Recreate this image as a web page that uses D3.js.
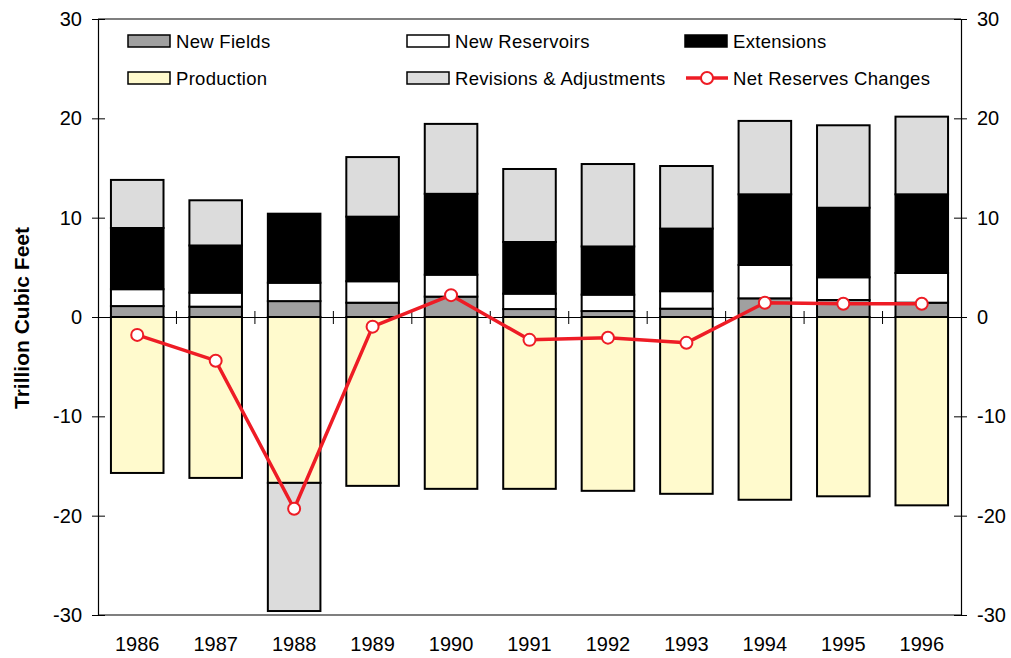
<!DOCTYPE html>
<html><head><meta charset="utf-8">
<script src="https://cdn.jsdelivr.net/npm/d3@7"></script>
<style>
body{margin:0;background:#fff;}
text{font-family:"Liberation Sans",Arial,sans-serif;}
</style></head>
<body>
<svg id="c" width="1011" height="658"></svg>
<script>
const years = ["1986","1987","1988","1989","1990","1991","1992","1993","1994","1995","1996"];
const newFields = [1.1, 1.04, 1.6, 1.44, 2.05, 0.8, 0.6, 0.84, 1.88, 1.71, 1.44];
const newReservoirs = [1.7, 1.41, 1.85, 2.16, 2.21, 1.55, 1.65, 1.76, 3.36, 2.29, 2.99];
const extensions = [6.16, 4.75, 6.95, 6.5, 8.14, 5.2, 4.85, 6.3, 7.11, 7.0, 7.92];
const production = [-15.7, -16.2, -16.7, -17.0, -17.3, -17.3, -17.5, -17.8, -18.4, -18.05, -18.96];
const revisions = [4.84, 4.55, -12.9, 6.0, 7.04, 7.35, 8.3, 6.3, 7.39, 8.3, 7.82];
const netChanges = [-1.8, -4.4, -19.3, -0.97, 2.2, -2.3, -2.08, -2.6, 1.44, 1.34, 1.34];
const yTicks = [-30, -20, -10, 0, 10, 20, 30];

const seriesKeys = ["nf","nr","ext","prod","rev"];
const seriesNames = {nf:"New Fields", nr:"New Reservoirs", ext:"Extensions", prod:"Production", rev:"Revisions & Adjustments"};
const colors = {nf:"#a0a0a0", nr:"#ffffff", ext:"#000000", prod:"#fffacd", rev:"#dcdcdc"};

const rows = years.map((y,i)=>({year:y, nf:newFields[i], nr:newReservoirs[i], ext:extensions[i], prod:production[i], rev:revisions[i]}));

const svg = d3.select("#c");
const L=98, R=961, T=19, B=615;
const x = d3.scaleBand().domain(years).range([L,R]).paddingInner(0.33).paddingOuter(0.165);
const y = d3.scaleLinear().domain([-30,30]).range([B,T]);

const stack = d3.stack().keys(seriesKeys).offset(d3.stackOffsetDiverging);
const stacked = stack(rows);

// bars
const g = svg.append("g");
stacked.forEach(s=>{
  g.selectAll(null).data(s).enter().append("rect")
    .attr("x", d=>x(d.data.year))
    .attr("width", x.bandwidth())
    .attr("y", d=>y(Math.max(d[0],d[1])))
    .attr("height", d=>Math.abs(y(d[0])-y(d[1])))
    .attr("fill", colors[s.key])
    .attr("stroke","#000")
    .attr("stroke-width",2);
});

// frame: top and bottom lines
svg.append("line").attr("x1",L).attr("x2",R).attr("y1",T).attr("y2",T).attr("stroke","#000").attr("stroke-width",1.2);
svg.append("line").attr("x1",L).attr("x2",R).attr("y1",B).attr("y2",B).attr("stroke","#000").attr("stroke-width",1.2);

const fmt = d=>String(d);
// left axis
const yl = svg.append("g").attr("transform",`translate(${L},0)`)
  .call(d3.axisLeft(y).tickValues(yTicks).tickFormat(fmt).tickSize(6).tickPadding(10));
yl.selectAll(".tick line").attr("x1",7).attr("x2",-6);
// right axis
const yr = svg.append("g").attr("transform",`translate(${R},0)`)
  .call(d3.axisRight(y).tickValues(yTicks).tickFormat(fmt).tickSize(6).tickPadding(10));
yr.selectAll(".tick line").attr("x1",-7).attr("x2",6);
[yl,yr].forEach(a=>{
  a.select(".domain").attr("stroke","#000").attr("stroke-width",1.2);
  a.selectAll("text").attr("font-size","20px").attr("fill","#000").attr("font-family","Liberation Sans, Arial, sans-serif");
  a.selectAll(".tick line").attr("stroke","#000");
});

// zero line axis with ticks between categories
const zero = svg.append("g").attr("transform",`translate(0,${y(0)})`)
  .call(d3.axisBottom(x).tickSize(0).tickFormat(""));
zero.select(".domain").attr("stroke","#000").attr("stroke-width",1.2);
zero.selectAll(".tick").remove();
const step = x.step();
const between = years.slice(0,-1).map((d,i)=>x(d)+x.bandwidth()+(step-x.bandwidth())/2);
zero.selectAll(null).data(between).enter().append("line")
  .attr("x1",d=>d).attr("x2",d=>d).attr("y1",-6).attr("y2",7).attr("stroke","#000").attr("stroke-width",1);

// category labels
const xb = svg.append("g").attr("transform",`translate(0,${B})`)
  .call(d3.axisBottom(x).tickSize(0).tickPadding(22));
xb.select(".domain").remove();
xb.selectAll("text").attr("font-size","20px").attr("fill","#000").attr("font-family","Liberation Sans, Arial, sans-serif");

// net line
const line = d3.line().x((d,i)=>x(years[i])+x.bandwidth()/2).y(d=>y(d));
svg.append("path").datum(netChanges).attr("d",line).attr("fill","none").attr("stroke","#ee1c25").attr("stroke-width",3.5).attr("stroke-linejoin","round");
svg.selectAll(null).data(netChanges).enter().append("circle")
  .attr("cx",(d,i)=>x(years[i])+x.bandwidth()/2).attr("cy",d=>y(d)).attr("r",6)
  .attr("fill","#fff").attr("stroke","#ee1c25").attr("stroke-width",2);

// y title
svg.append("text").attr("transform","translate(29,318) rotate(-90)").attr("text-anchor","middle")
  .attr("font-size","21px").attr("font-weight","bold").text("Trillion Cubic Feet");

// legend
const legendItems = [
  {k:"nf", x:128, y:41}, {k:"nr", x:407, y:41}, {k:"ext", x:685, y:41},
  {k:"prod", x:128, y:78}, {k:"rev", x:407, y:78}, {k:"net", x:685, y:78}
];
const lg = svg.append("g");
legendItems.forEach(it=>{
  if(it.k==="net"){
    lg.append("line").attr("x1",it.x+1).attr("x2",it.x+43).attr("y1",it.y).attr("y2",it.y).attr("stroke","#ee1c25").attr("stroke-width",3.5);
    lg.append("circle").attr("cx",it.x+22).attr("cy",it.y).attr("r",6).attr("fill","#fff").attr("stroke","#ee1c25").attr("stroke-width",2);
    lg.append("text").attr("x",it.x+48).attr("y",it.y+6.5).attr("font-size","18.5px").attr("letter-spacing","0.3px").text("Net Reserves Changes");
  } else {
    lg.append("rect").attr("x",it.x).attr("y",it.y-6).attr("width",42).attr("height",12)
      .attr("fill",colors[it.k]).attr("stroke","#000").attr("stroke-width",1.5);
    lg.append("text").attr("x",it.x+48).attr("y",it.y+6.5).attr("font-size","18.5px").attr("letter-spacing","0.3px").text(seriesNames[it.k]);
  }
});
</script>
</body></html>
